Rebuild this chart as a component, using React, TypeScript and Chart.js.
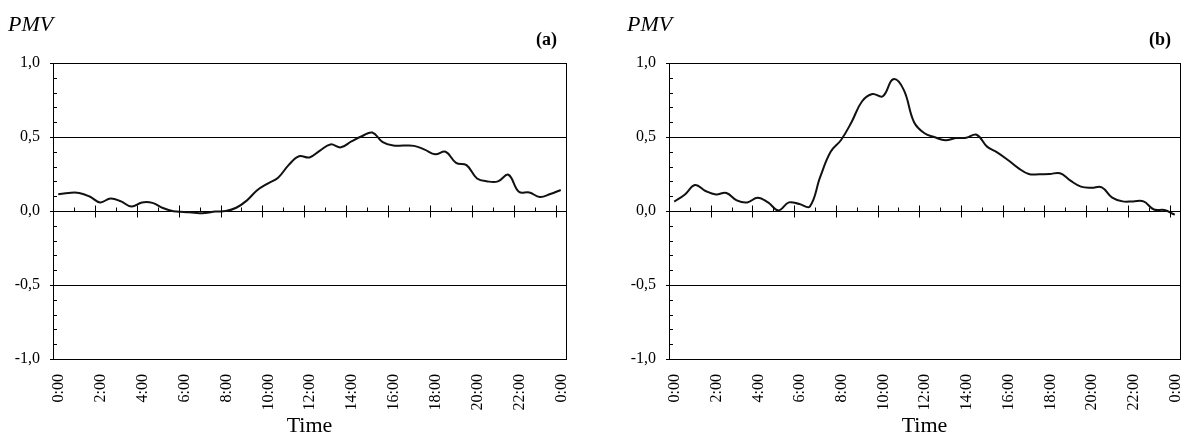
import React, { useEffect, useRef } from "react";
import { Chart, registerables } from "chart.js";

Chart.register(...registerables);

// Sample times (hours) of each reading
const TIMES = [
  0.25, 0.75, 1.25, 1.75, 2.25, 2.75, 3.25, 3.75, 4.25, 4.75,
  5.25, 5.75, 6.25, 6.75, 7.25, 7.75, 8.25, 8.75, 9.25, 9.75,
  10.25, 10.75, 11.25, 11.75, 12.25, 12.75, 13.25, 13.75, 14.25, 14.75,
  15.25, 15.75, 16.25, 16.75, 17.25, 17.75, 18.25, 18.75, 19.25, 19.75,
  20.25, 20.75, 21.25, 21.75, 22.25, 22.75, 23.25, 23.75, 24.25,
];

// PMV values, panel (a)
const PMV_A = [
  0.113, 0.122, 0.122, 0.098, 0.058, 0.085, 0.065, 0.03, 0.058, 0.055,
  0.02, -0.002, -0.006, -0.012, -0.014, -0.004, 0.0, 0.022, 0.07, 0.14,
  0.185, 0.225, 0.31, 0.37, 0.362, 0.408, 0.45, 0.43, 0.47, 0.505,
  0.53, 0.465, 0.442, 0.442, 0.44, 0.415, 0.383, 0.4, 0.325, 0.31,
  0.22, 0.2, 0.2, 0.245, 0.13, 0.125, 0.095, 0.115, 0.142,
];

// PMV values, panel (b)
const PMV_B = [
  0.063, 0.11, 0.175, 0.135, 0.112, 0.122, 0.072, 0.058, 0.09, 0.058,
  0.004, 0.058, 0.047, 0.03, 0.23, 0.4, 0.48, 0.6, 0.74, 0.79,
  0.775, 0.89, 0.82, 0.6, 0.525, 0.498, 0.478, 0.493, 0.495, 0.515,
  0.435, 0.395, 0.345, 0.29, 0.25, 0.248, 0.25, 0.255, 0.205, 0.165,
  0.157, 0.16, 0.09, 0.065, 0.065, 0.065, 0.01, 0.007, -0.025,
];

const X_TICK_VALUES = [0, 2, 4, 6, 8, 10, 12, 14, 16, 18, 20, 22, 24];
const X_TICK_LABELS = [
  "0:00", "2:00", "4:00", "6:00", "8:00", "10:00", "12:00",
  "14:00", "16:00", "18:00", "20:00", "22:00", "0:00",
];
const HOUR_MARKS = [
  1, 2, 3, 4, 5, 6, 7, 8, 9, 10, 11, 12, 13, 14, 15, 16, 17, 18, 19, 20, 21, 22, 23, 24,
];
const Y_TICK_VALUES = [-1, -0.5, 0, 0.5, 1];
const Y_TICK_LABELS = ["-1,0", "-0,5", "0,0", "0,5", "1,0"];
const Y_MINOR = [-0.9, -0.8, -0.7, -0.6, -0.4, -0.3, -0.2, -0.1, 0.1, 0.2, 0.3, 0.4, 0.6, 0.7, 0.8, 0.9];

const X_MIN = 0;
const X_MAX = 24.5;

const FONT = "'Liberation Serif', 'Times New Roman', serif";

const tickMarksPlugin = {
  id: "tickMarks",
  afterDraw(chart: any) {
    const { ctx, chartArea } = chart;
    const x = chart.scales.x;
    const y = chart.scales.y;
    const y0 = Math.round(y.getPixelForValue(0)) + 0.5;
    ctx.save();
    ctx.strokeStyle = "#000";
    ctx.lineWidth = 1;
    ctx.beginPath();
    for (const h of HOUR_MARKS) {
      const px = Math.round(x.getPixelForValue(h)) + 0.5;
      const major = h % 2 === 0;
      ctx.moveTo(px, y0 - (major ? 6 : 4));
      ctx.lineTo(px, y0 + (major ? 6 : 0));
    }
    for (const v of Y_MINOR) {
      const py = Math.round(y.getPixelForValue(v)) + 0.5;
      ctx.moveTo(chartArea.left, py);
      ctx.lineTo(chartArea.left + 4, py);
    }
    ctx.stroke();
    ctx.restore();
  },
};

type PanelProps = {
  values: number[];
  tag: string;
  left: number;
  padLeft: number;
  padRight: number;
  yWidth: number;
};

function Panel({ values, tag, left, padLeft, padRight, yWidth }: PanelProps) {
  const ref = useRef<HTMLCanvasElement>(null);
  useEffect(() => {
    if (!ref.current) return;
    const chart = new Chart(ref.current, {
      type: "line",
      data: {
        datasets: [
          {
            data: TIMES.map((t, i) => ({ x: t, y: values[i] })),
            borderColor: "#111",
            borderWidth: 2,
            pointRadius: 0,
            tension: 0.4,
            fill: false,
          },
        ],
      },
      options: {
        responsive: false,
        animation: false,
        events: [],
        layout: { padding: { left: padLeft, right: padRight, top: 0, bottom: 0 } },
        plugins: {
          legend: { display: false },
          tooltip: { enabled: false },
          title: {
            display: true,
            text: "PMV",
            align: "start",
            color: "#000",
            font: { family: FONT, size: 22, style: "italic", weight: "normal", lineHeight: 1 },
            padding: { top: 14, bottom: 0 },
          },
          subtitle: {
            display: true,
            text: tag + "  ",
            align: "end",
            color: "#000",
            font: { family: FONT, size: 18, weight: "bold", lineHeight: 0.5 },
            padding: { top: 0, bottom: 18 },
          },
        },
        scales: {
          x: {
            type: "linear",
            min: X_MIN,
            max: X_MAX,
            afterBuildTicks: (s: any) => {
              s.ticks = X_TICK_VALUES.map((v) => ({ value: v }));
            },
            afterFit: (s: any) => {
              s.height = 86;
              s.paddingLeft = 0;
              s.paddingRight = 0;
            },
            grid: { display: false, drawTicks: false },
            border: { display: true, color: "#000", width: 1 },
            ticks: {
              color: "#000",
              font: { family: FONT, size: 16 },
              minRotation: 90,
              maxRotation: 90,
              autoSkip: false,
              padding: 15,
              labelOffset: 6,
              callback: (_v: any, i: number) => X_TICK_LABELS[i],
            },
            title: {
              display: true,
              text: "Time",
              color: "#000",
              font: { family: FONT, size: 22, lineHeight: 1.2 },
              padding: { top: 0, bottom: 6 },
            },
          },
          y: {
            type: "linear",
            min: -1,
            max: 1,
            afterBuildTicks: (s: any) => {
              s.ticks = Y_TICK_VALUES.map((v) => ({ value: v }));
            },
            afterFit: (s: any) => {
              s.width = yWidth;
              s.paddingTop = 0;
              s.paddingBottom = 0;
            },
            grid: { display: true, color: "#000", lineWidth: 1, drawTicks: true, tickLength: 3 },
            border: { display: true, color: "#000", width: 1 },
            ticks: {
              color: "#000",
              font: { family: FONT, size: 16 },
              padding: 10,
              callback: (_v: any, i: number) => Y_TICK_LABELS[i],
            },
          },
          y2: {
            type: "linear",
            position: "right",
            display: true,
            grid: { display: false, drawTicks: false },
            ticks: { display: false },
            border: { display: true, color: "#000", width: 1 },
            afterFit: (s: any) => {
              s.width = 0;
              s.paddingTop = 0;
              s.paddingBottom = 0;
            },
          },
        },
      },
      plugins: [tickMarksPlugin],
    } as any);
    return () => chart.destroy();
  }, [values, tag, padLeft, padRight, yWidth]);

  return (
    <div style={{ position: "absolute", left, top: 0, width: 592, height: 445 }}>
      <canvas ref={ref} width={592} height={445} style={{ width: 592, height: 445, display: "block" }} />
    </div>
  );
}

export default function App() {
  return (
    <div style={{ position: "absolute", left: 0, top: 0, width: 1184, height: 445, background: "#fff" }}>
      <Panel values={PMV_A} tag="(a)" left={0} padLeft={8} padRight={26} yWidth={45} />
      <Panel values={PMV_B} tag="(b)" left={592} padLeft={35} padRight={4} yWidth={42} />
    </div>
  );
}
